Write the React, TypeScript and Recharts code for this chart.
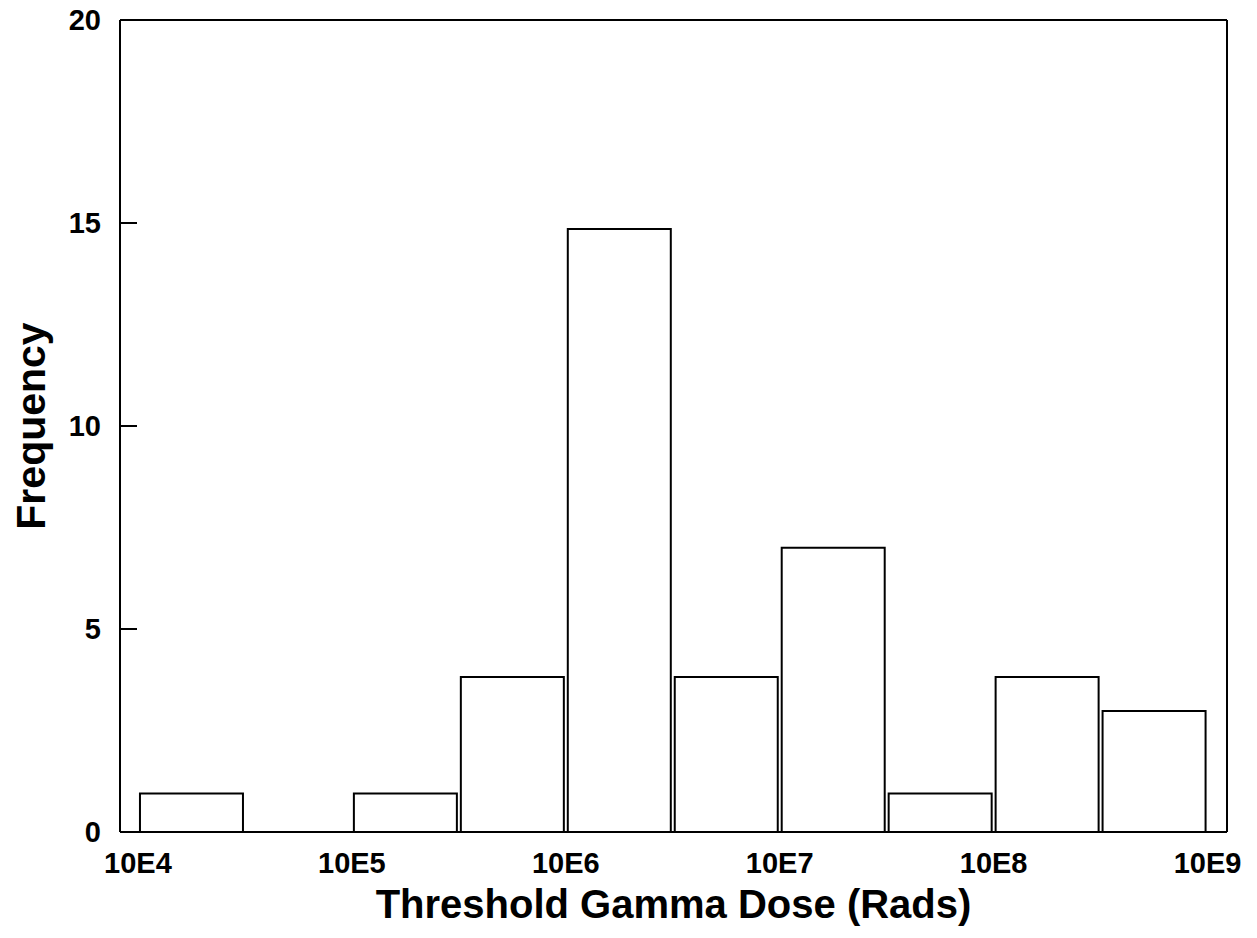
import { Bar, ComposedChart, XAxis, YAxis } from "recharts";

// bin centres in log10 units (half-decade bins from 10E4 to 10E9)
const binCentres = [4.25, 4.75, 5.25, 5.75, 6.25, 6.75, 7.25, 7.75, 8.25, 8.75];
const frequency = [0.95, 0, 0.95, 3.82, 14.85, 3.82, 7.0, 0.95, 3.82, 2.98];
const xTicks = [4, 5, 6, 7, 8, 9];
const yTicks = [0, 5, 10, 15, 20];

const data = binCentres.map((x, i) => ({ x, count: frequency[i] }));

const font = "'Liberation Sans', Arial, Helvetica, sans-serif";
const line = { stroke: "#000", strokeWidth: 2 };
const tickFont = { fill: "#000", fontSize: 29, fontWeight: 700, fontFamily: font };
const xDomain: [number, number] = [3.916, 9.091];

function YTick(props: any) {
  const { x, y, payload } = props;
  const axisX = x + 19;
  return (
    <g>
      <line x1={axisX} x2={axisX + 17} y1={y} y2={y} stroke="#000" strokeWidth={2} />
      <text x={x} y={y} dy="0.36em" textAnchor="end" {...tickFont}>
        {payload.value}
      </text>
    </g>
  );
}

export default function App() {
  return (
    <div style={{ position: "absolute", left: 0, top: 0, background: "#fff" }}>
      <ComposedChart
        width={1257}
        height={938}
        data={data}
        margin={{ top: 19, right: 29, bottom: 0, left: 0 }}
      >
        <XAxis
          dataKey="x"
          type="number"
          domain={xDomain}
          ticks={xTicks}
          tickFormatter={(v: number) => `10E${v}`}
          tick={tickFont}
          tickLine={false}
          tickSize={0}
          tickMargin={20}
          axisLine={line}
          height={106}
          label={{
            value: "Threshold Gamma Dose (Rads)",
            position: "insideBottom",
            offset: 20,
            style: { fill: "#000", fontSize: 40, fontWeight: 700, fontFamily: font },
          }}
        />
        <XAxis
          xAxisId="top"
          dataKey="x"
          orientation="top"
          type="number"
          domain={xDomain}
          ticks={xTicks}
          tick={false}
          tickLine={false}
          axisLine={line}
          height={1}
        />
        <YAxis
          domain={[0, 20]}
          ticks={yTicks}
          tick={<YTick />}
          tickLine={false}
          tickSize={0}
          tickMargin={19}
          axisLine={line}
          width={120}
          label={{
            value: "Frequency",
            angle: -90,
            position: "insideLeft",
            offset: 30,
            style: { textAnchor: "middle", fill: "#000", fontSize: 41, fontWeight: 700, fontFamily: font },
          }}
        />
        <YAxis
          yAxisId="right"
          orientation="right"
          domain={[0, 20]}
          ticks={yTicks}
          tick={false}
          tickLine={false}
          axisLine={line}
          width={1}
        />
        <Bar
          dataKey="count"
          barSize={103}
          fill="#fff"
          stroke="#000"
          strokeWidth={2}
          isAnimationActive={false}
        />
      </ComposedChart>
    </div>
  );
}
